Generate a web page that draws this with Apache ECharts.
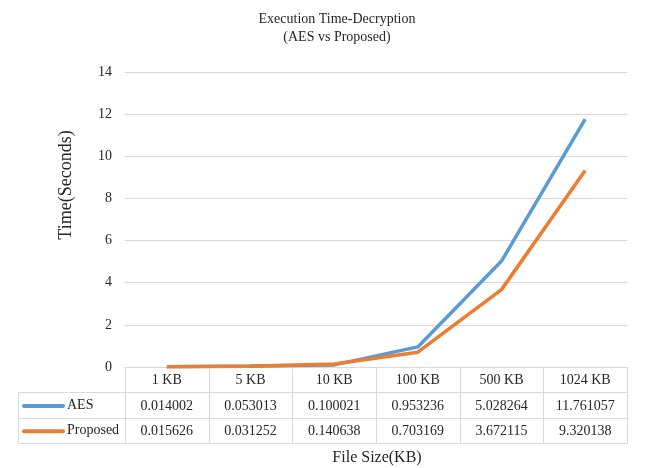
<!DOCTYPE html>
<html>
<head>
<meta charset="utf-8">
<script src="https://cdn.jsdelivr.net/npm/echarts@6/dist/echarts.min.js"></script>
<style>
  html, body { margin: 0; padding: 0; background: #fff; }
  #chart { width: 648px; height: 468px; }
</style>
</head>
<body>
<div id="chart"></div>
<script>
// File sizes and decryption times (seconds)
const categories = ['1 KB', '5 KB', '10 KB', '100 KB', '500 KB', '1024 KB'];
const aesTimes = [0.014002, 0.053013, 0.100021, 0.953236, 5.028264, 11.761057];
const proposedTimes = [0.015626, 0.031252, 0.140638, 0.703169, 3.672115, 9.320138];
const aesLabels = ['0.014002', '0.053013', '0.100021', '0.953236', '5.028264', '11.761057'];
const proposedLabels = ['0.015626', '0.031252', '0.140638', '0.703169', '3.672115', '9.320138'];

const FONT = '"Liberation Serif", "Times New Roman", serif';
const TEXT = '#262626';
const BORDER = '#d9d9d9';
const AES_COLOR = '#5b9bd5';
const PROP_COLOR = '#ed7d31';

const chart = echarts.init(document.getElementById('chart'), null, { renderer: 'canvas' });

const GRID_LEFT = 125, GRID_RIGHT = 627, GRID_TOP = 72, GRID_BOTTOM = 367;

chart.setOption({
  animation: false,
  textStyle: { fontFamily: FONT },
  title: {
    text: 'Execution Time-Decryption\n(AES vs Proposed)',
    left: 332, top: 5, textAlign: 'center',
    textStyle: { fontFamily: FONT, fontSize: 14, fontWeight: 'normal', color: TEXT, lineHeight: 18 }
  },
  grid: { left: GRID_LEFT, right: 648 - GRID_RIGHT, top: GRID_TOP, bottom: 468 - GRID_BOTTOM, containLabel: false },
  xAxis: {
    type: 'category', data: categories, boundaryGap: true,
    axisLine: { show: true, lineStyle: { color: BORDER, width: 1 } },
    axisTick: { show: false }, axisLabel: { show: false }
  },
  yAxis: {
    type: 'value', min: 0, max: 14, interval: 2,
    axisLine: { show: false }, axisTick: { show: false },
    axisLabel: { fontFamily: FONT, fontSize: 14, color: TEXT, margin: 13 },
    splitLine: { lineStyle: { color: BORDER, width: 1 } }
  },
  series: [
    { name: 'AES', type: 'line', data: aesTimes, showSymbol: false, symbol: 'none',
      lineStyle: { color: AES_COLOR, width: 3.5 }, itemStyle: { color: AES_COLOR }, z: 2 },
    { name: 'Proposed', type: 'line', data: proposedTimes, showSymbol: false, symbol: 'none',
      lineStyle: { color: PROP_COLOR, width: 3.5 }, itemStyle: { color: PROP_COLOR }, z: 3 }
  ]
});

// Data table under the plot, aligned to the category axis
function buildTable() {
  const centers = categories.map((c, i) => chart.convertToPixel({ xAxisIndex: 0 }, i));
  const step = centers.length > 1 ? centers[1] - centers[0] : 80;
  const x0 = centers[0] - step / 2;
  const xEnd = centers[centers.length - 1] + step / 2;
  const yTop = chart.convertToPixel({ yAxisIndex: 0 }, 0);
  const rowH = 25.3;
  const tableLeft = 18;
  const rows = [yTop, yTop + rowH, yTop + 2 * rowH, yTop + 3 * rowH];
  const els = [];
  const line = (x1, y1, x2, y2) => els.push({
    type: 'line', silent: true,
    shape: { x1: Math.round(x1) + 0.5, y1: Math.round(y1) + 0.5, x2: Math.round(x2) + 0.5, y2: Math.round(y2) + 0.5 },
    style: { stroke: BORDER, lineWidth: 1 }
  });
  // horizontal rules
  line(tableLeft, rows[1], xEnd, rows[1]);
  line(tableLeft, rows[2], xEnd, rows[2]);
  line(tableLeft, rows[3], xEnd, rows[3]);
  // vertical rules
  line(tableLeft, rows[1], tableLeft, rows[3]);
  for (let i = 0; i <= categories.length; i++) {
    const x = x0 + i * step;
    line(x, rows[0], x, rows[3]);
  }
  const cellText = (txt, x, y) => els.push({
    type: 'text', silent: true, x: x, y: y,
    style: { text: txt, fill: TEXT, font: '14px ' + FONT, textAlign: 'center', textVerticalAlign: 'middle' }
  });
  categories.forEach((c, i) => cellText(c, centers[i], (rows[0] + rows[1]) / 2 + 1));
  aesLabels.forEach((t, i) => cellText(t, centers[i], (rows[1] + rows[2]) / 2 + 1));
  proposedLabels.forEach((t, i) => cellText(t, centers[i], (rows[2] + rows[3]) / 2 + 1));
  // legend keys inside the table
  const keys = [['AES', AES_COLOR, (rows[1] + rows[2]) / 2], ['Proposed', PROP_COLOR, (rows[2] + rows[3]) / 2]];
  keys.forEach(([name, color, cy]) => {
    els.push({ type: 'line', silent: true, shape: { x1: 24, y1: cy + 1, x2: 63, y2: cy + 1 },
      style: { stroke: color, lineWidth: 4, lineCap: 'round' } });
    els.push({ type: 'text', silent: true, x: 67, y: cy,
      style: { text: name, fill: TEXT, font: '14px ' + FONT, textAlign: 'left', textVerticalAlign: 'middle' } });
  });
  // axis titles
  els.push({ type: 'text', silent: true, x: 377, y: 458,
    style: { text: 'File Size(KB)', fill: TEXT, font: '16px ' + FONT, textAlign: 'center', textVerticalAlign: 'middle' } });
  els.push({ type: 'text', silent: true, x: 66, y: 185, rotation: Math.PI / 2,
    style: { text: 'Time(Seconds)', fill: TEXT, font: '18px ' + FONT, textAlign: 'center', textVerticalAlign: 'middle' } });
  chart.setOption({ graphic: { elements: els } });
}
buildTable();
</script>
</body>
</html>
